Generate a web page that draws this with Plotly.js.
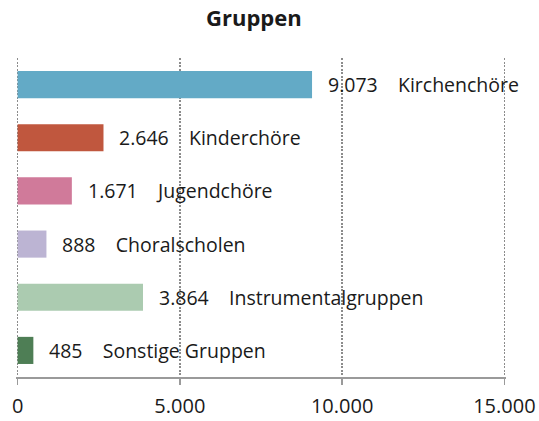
<!DOCTYPE html>
<html>
<head>
<meta charset="utf-8">
<script src="https://cdn.plot.ly/plotly-3.0.1.min.js"></script>
<style>html,body{margin:0;padding:0;background:#fff;}#chart{width:539px;height:421px;}</style>
</head>
<body>
<div id="chart"></div>
<script>
const categories = ['Kirchenchöre', 'Kinderchöre', 'Jugendchöre', 'Choralscholen', 'Instrumentalgruppen', 'Sonstige Gruppen'];
const values = [9073, 2646, 1671, 888, 3864, 485];
const colors = ['#63AAC6', '#C0573E', '#D07A9A', '#BCB4D3', '#ABCBB0', '#4E7E55'];
const tickValues = [0, 5000, 10000, 15000];
const tickLabels = ['0', '5.000', '10.000', '15.000'];

function fmt(v) {
  return String(v).replace(/\B(?=(\d{3})+(?!\d))/g, '.');
}

const trace = {
  type: 'bar',
  orientation: 'h',
  x: values,
  y: categories,
  marker: { color: colors },
  hoverinfo: 'none'
};

const annotations = categories.map((c, i) => ({
  x: values[i],
  y: c,
  xref: 'x',
  yref: 'y',
  xanchor: 'left',
  yanchor: 'middle',
  xshift: 14,
  showarrow: false,
  text: fmt(values[i]) + '\u00a0\u00a0\u00a0\u00a0' + c,
  font: { family: 'Open Sans', size: 19.5, color: '#1a1a1a' }
}));

const layout = {
  width: 539,
  height: 421,
  margin: { l: 16, r: 33, t: 58, b: 44 },
  paper_bgcolor: '#ffffff',
  plot_bgcolor: '#ffffff',
  separators: ',.',
  showlegend: false,
  bargap: 0.49,
  title: {
    text: '<b>Gruppen</b>',
    font: { family: 'Open Sans', size: 22, color: '#1a1a1a' },
    x: 0.471, xref: 'container', xanchor: 'center',
    y: 1 - 18 / 421, yref: 'container', yanchor: 'middle'
  },
  xaxis: {
    range: [-50, 15050],
    tickvals: tickValues,
    ticktext: tickLabels,
    showgrid: true,
    gridcolor: '#8c8c8c',
    gridwidth: 1.5,
    griddash: '2px,1.5px',
    zeroline: false,
    showline: true,
    linecolor: '#9a9a9a',
    linewidth: 1.5,
    ticks: 'outside',
    ticklen: 6,
    tickwidth: 1.5,
    tickcolor: '#9a9a9a',
    ticklabelstandoff: 4,
    tickfont: { family: 'Open Sans', size: 20, color: '#1a1a1a' },
    fixedrange: true
  },
  yaxis: {
    autorange: false,
    range: [5.5, -0.5],
    showticklabels: false,
    showgrid: false,
    zeroline: false,
    showline: false,
    ticks: '',
    fixedrange: true
  },
  annotations: annotations
};

Plotly.newPlot('chart', [trace], layout, { displayModeBar: false, staticPlot: true });
</script>
</body>
</html>
